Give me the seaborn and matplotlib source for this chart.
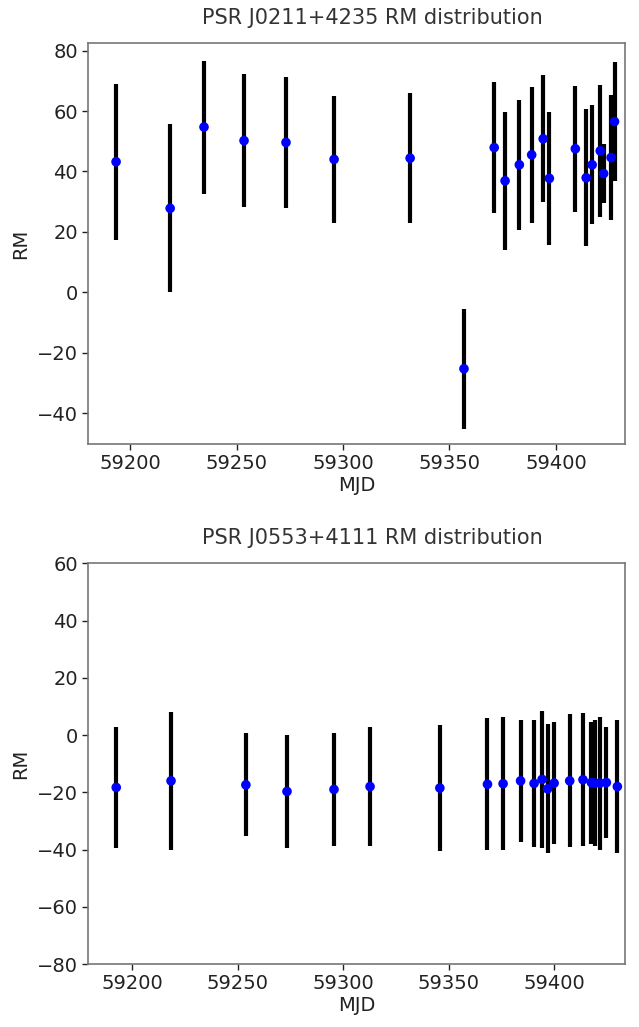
import matplotlib
matplotlib.use("Agg")
import matplotlib.pyplot as plt
import seaborn as sns
import pandas as pd

# ---- data: PSR J0211+4235 ----
mjd_a = [59193.4, 59218.8, 59234.7, 59253.5, 59273.2, 59295.8, 59331.5, 59356.8,
         59371.0, 59376.1, 59382.8, 59388.6, 59394.0, 59396.9, 59409.1, 59414.2,
         59417.0, 59420.8, 59422.4, 59425.9, 59427.5]
rm_a = [43.2, 27.8, 54.7, 50.2, 49.6, 44.0, 44.4, -25.3,
        47.9, 36.9, 42.2, 45.5, 50.8, 37.7, 47.5, 37.9,
        42.2, 46.8, 39.3, 44.6, 56.5]
err_a = [25.8, 27.8, 22.0, 22.0, 21.8, 21.0, 21.5, 19.8,
         21.8, 22.8, 21.5, 22.5, 21.0, 22.0, 20.8, 22.7,
         19.7, 21.8, 9.7, 20.6, 19.7]

# ---- data: PSR J0553+4111 ----
mjd_b = [59192.3, 59218.3, 59253.8, 59273.3, 59295.6, 59312.7, 59345.8,
         59368.4, 59375.8, 59384.1, 59390.5, 59394.3, 59396.9, 59400.0,
         59407.4, 59413.7, 59417.7, 59419.3, 59421.7, 59424.8, 59430.0]
rm_b = [-18.3, -16.0, -17.4, -19.7, -19.0, -18.0, -18.5,
        -17.2, -17.0, -16.0, -16.9, -15.5, -18.8, -16.8,
        -16.0, -15.6, -16.6, -16.8, -16.8, -16.6, -18.0]
err_b = [21.0, 24.2, 18.0, 19.8, 19.8, 20.8, 22.0,
         23.0, 23.3, 21.2, 22.1, 24.0, 22.5, 21.2,
         23.2, 23.2, 21.3, 22.0, 23.2, 19.3, 23.2]

titles = ["PSR J0211+4235 RM distribution", "PSR J0553+4111 RM distribution"]
yticks_a = [-40, -20, 0, 20, 40, 60, 80]
yticks_b = [-80, -60, -40, -20, 0, 20, 40, 60]
xticks = [59200, 59250, 59300, 59350, 59400]

sns.set_style("ticks")
plt.rcParams["font.family"] = ["DejaVu Sans"]

fig = plt.figure(figsize=(6.39, 10.27), dpi=100)
ax1 = fig.add_axes([0.138, 0.5677, 0.840, 0.3901])
ax2 = fig.add_axes([0.138, 0.0613, 0.840, 0.3902])

def panel(ax, mjd, rm, err, title, yticks, ylim, xlim):
    df = pd.DataFrame({"MJD": mjd, "RM": rm, "err": err})
    ax.errorbar(df["MJD"], df["RM"], yerr=df["err"], fmt="none",
                ecolor="black", elinewidth=3, capsize=0, zorder=2)
    sns.scatterplot(data=df, x="MJD", y="RM", ax=ax, color="blue",
                    s=48, edgecolor="none", zorder=3)
    ax.set_xlim(*xlim)
    ax.set_ylim(*ylim)
    ax.set_xticks(xticks)
    ax.set_yticks(yticks)
    ax.tick_params(labelsize=14, length=4, width=1, colors="#222222")
    ax.set_xlabel("MJD", fontsize=14, color="#222222", labelpad=2)
    ax.set_ylabel("RM", fontsize=14, color="#222222", labelpad=5)
    ax.set_title(title, fontsize=15, color="#333333", pad=14, x=0.53)
    for s in ax.spines.values():
        s.set_color("#777777")
        s.set_linewidth(1.2)
        s.set_visible(True)

panel(ax1, mjd_a, rm_a, err_a, titles[0], yticks_a, (-50.2, 82.4), (59180.3, 59432.4))
panel(ax2, mjd_b, rm_b, err_b, titles[1], yticks_b, (-80, 60), (59179.0, 59433.6))

fig.savefig("out.png", dpi=100)
